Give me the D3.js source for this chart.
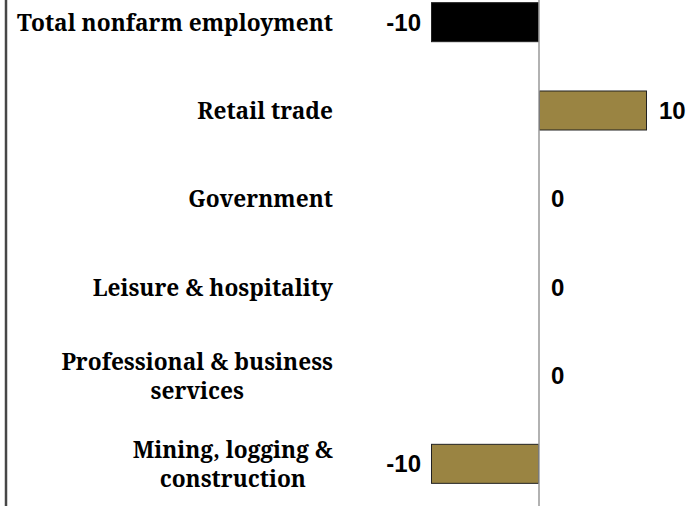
<!DOCTYPE html>
<html>
<head>
<title>Employment change by sector</title>
<style>
  body { margin: 0; background: #fff; }
  .cat-label {
    font-family: "Noto Serif", "DejaVu Serif Condensed", serif;
    font-weight: bold;
    font-size: 22.7px;
    fill: #000;
  }
  .val-label {
    font-family: "Liberation Sans", Arial, sans-serif;
    font-weight: bold;
    font-size: 24px;
    fill: #000;
  }
</style>
<script src="https://d3js.org/d3.v7.min.js"></script>
</head>
<body>
<div id="chart"></div>
<script>
  // data
  const categories = [
    ["Total nonfarm employment"],
    ["Retail trade"],
    ["Government"],
    ["Leisure & hospitality"],
    ["Professional & business", "services"],
    ["Mining, logging &", "construction"]
  ];
  const values = [-10, 10, 0, 0, 0, -10];
  const barColors = ["#000000", "#9a8442", "#9a8442", "#9a8442", "#9a8442", "#9a8442"];

  const width = 699;
  const height = 506;

  const svg = d3.select("#chart")
    .append("svg")
    .attr("width", width)
    .attr("height", height);

  const x = d3.scaleLinear()
    .domain([-10, 10])
    .range([431, 647]);

  const y = d3.scaleBand()
    .domain(d3.range(categories.length))
    .range([-22, 508])
    .paddingInner(0.547)
    .paddingOuter(0.2735);

  // left frame line
  svg.append("line")
    .attr("x1", 6).attr("x2", 6)
    .attr("y1", 0).attr("y2", height)
    .attr("stroke", "#474747")
    .attr("stroke-width", 2.5);

  // bars (zero values get no bar)
  svg.append("g")
    .selectAll("rect")
    .data(values.map((v, i) => ({ v, i })).filter(d => d.v !== 0))
    .join("rect")
    .attr("x", d => x(Math.min(0, d.v)) + 0.5)
    .attr("y", d => y(d.i) + 0.5)
    .attr("width", d => Math.abs(x(d.v) - x(0)) - 1)
    .attr("height", y.bandwidth() - 1)
    .attr("fill", d => barColors[d.i])
    .attr("stroke", "#222")
    .attr("stroke-width", 1);

  // zero line
  svg.append("line")
    .attr("x1", x(0)).attr("x2", x(0))
    .attr("y1", 0).attr("y2", height)
    .attr("stroke", "#999")
    .attr("stroke-width", 1.5);

  // category labels: lines centred on each other, block right-aligned
  const labelRight = 333;
  const lineGap = 29;
  categories.forEach((lines, i) => {
    const cy = y(i) + y.bandwidth() / 2;
    const g = svg.append("g");
    const first = cy + 8.5 - (lines.length - 1) * lineGap / 2;
    const texts = lines.map((s, k) => g.append("text")
      .attr("class", "cat-label")
      .attr("y", first + k * lineGap)
      .text(s));
    const maxW = d3.max(texts, t => t.node().getComputedTextLength());
    texts.forEach(t => t.attr("x", labelRight - maxW / 2).attr("text-anchor", "middle"));
  });

  // value labels
  svg.append("g")
    .selectAll("text")
    .data(values)
    .join("text")
    .attr("class", "val-label")
    .attr("x", d => d < 0 ? x(d) - 10 : x(d) + 12)
    .attr("y", (d, i) => y(i) + y.bandwidth() / 2 + 8.5)
    .attr("text-anchor", d => d < 0 ? "end" : "start")
    .text(d => d);
</script>
</body>
</html>
